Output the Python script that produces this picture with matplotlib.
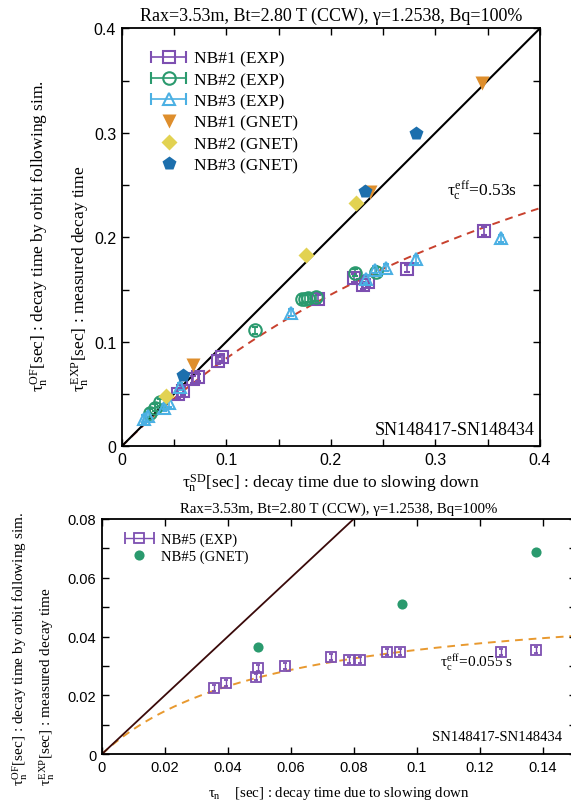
import matplotlib
matplotlib.use("Agg")
import matplotlib.pyplot as plt
import numpy as np
from matplotlib.container import ErrorbarContainer
from matplotlib.legend_handler import HandlerErrorbar
from matplotlib.lines import Line2D
from matplotlib.ticker import MultipleLocator

plt.rcParams["font.family"] = ["Liberation Serif", "DejaVu Serif"]
plt.rcParams["mathtext.fontset"] = "custom"
plt.rcParams["mathtext.rm"] = "Liberation Serif"
plt.rcParams["mathtext.it"] = "Liberation Serif"
plt.rcParams["mathtext.bf"] = "Liberation Serif:bold"

# ---- upper panel data (NB#1-3) ----
nb1_exp_x = [0.054, 0.059, 0.068, 0.073, 0.092, 0.096, 0.188, 0.222, 0.231, 0.236, 0.273, 0.346]
nb1_exp_y = [0.050, 0.053, 0.064, 0.066, 0.082, 0.085, 0.141, 0.161, 0.154, 0.157, 0.170, 0.206]
nb2_exp_x = [0.027, 0.032, 0.037, 0.127, 0.172, 0.175, 0.178, 0.186, 0.223, 0.243]
nb2_exp_y = [0.032, 0.037, 0.042, 0.111, 0.141, 0.141, 0.142, 0.143, 0.166, 0.167]
nb3_exp_x = [0.021, 0.025, 0.040, 0.045, 0.056, 0.162, 0.234, 0.242, 0.253, 0.281, 0.363]
nb3_exp_y = [0.026, 0.029, 0.037, 0.041, 0.057, 0.128, 0.160, 0.169, 0.171, 0.179, 0.199]
exp_err_top = 0.0035

nb1_gnet_x = [0.0685, 0.237, 0.345]
nb1_gnet_y = [0.0778, 0.243, 0.348]
nb2_gnet_x = [0.0424, 0.176, 0.224]
nb2_gnet_y = [0.0478, 0.183, 0.233]
nb3_gnet_x = [0.0589, 0.233, 0.281]
nb3_gnet_y = [0.0682, 0.244, 0.300]
tau_c_top = 0.53

# ---- lower panel data (NB#5) ----
nb5_exp_x = [0.0358, 0.0394, 0.0490, 0.0495, 0.0583, 0.0727, 0.0786, 0.0820, 0.0905, 0.0947, 0.1267, 0.1379]
nb5_exp_y = [0.0225, 0.0241, 0.0262, 0.0293, 0.0301, 0.0330, 0.0322, 0.0322, 0.0349, 0.0349, 0.0349, 0.0355]
exp_err_bot = 0.001
nb5_gnet_x = [0.0495, 0.0952, 0.1378]
nb5_gnet_y = [0.0364, 0.0511, 0.0687]
tau_c_bot = 0.055

title = "Rax=3.53m, Bt=2.80 T (CCW), \u03b3=1.2538, Bq=100%"
C = {"nb1": "#7d4fb1", "nb2": "#2a9a6e", "nb3": "#4bb0e3",
     "g1": "#de8e2c", "g2": "#e2d252", "g3": "#1c6fad",
     "fit_top": "#c8412e", "fit_bot": "#e8992f", "diag_bot": "#3a0a0a"}

W, H = 571, 803
fig = plt.figure(figsize=(W / 100, H / 100), dpi=100)


def tau_eff(x, tc):
    return 1.0 / (1.0 / x + 1.0 / tc)


def style_axes(ax, fs):
    ax.tick_params(which="both", direction="in", top=True, right=True,
                   length=5, width=1.0, labelsize=fs, pad=4)
    for lab in ax.get_xticklabels() + ax.get_yticklabels():
        lab.set_family(["Liberation Sans", "DejaVu Sans"])
    for s in ax.spines.values():
        s.set_linewidth(1.3)


def cap_update(handle, orig):
    handle.update_from(orig)
    if isinstance(handle, Line2D) and orig.get_marker() in ("_", "|"):
        handle.set_markersize(8)


# ================= upper panel =================
ax = fig.add_axes([121.7 / W, 1 - 447.3 / H, 418.3 / W, 418 / H])
ax.set_xlim(0, 0.4)
ax.set_ylim(0, 0.4)
diag = np.array([0, 0.4])
ax.plot(diag, diag, color="black", lw=1.5, zorder=2)
xs = np.linspace(1e-4, 0.4, 200)
ax.plot(xs, tau_eff(xs, tau_c_top), ls=(0, (4, 3)), color=C["fit_top"], lw=1.4, zorder=1)

handles = []
for x, y, m, c, lab in [(nb1_exp_x, nb1_exp_y, "s", C["nb1"], "NB#1 (EXP)"),
                        (nb2_exp_x, nb2_exp_y, "o", C["nb2"], "NB#2 (EXP)"),
                        (nb3_exp_x, nb3_exp_y, "^", C["nb3"], "NB#3 (EXP)")]:
    eb = ax.errorbar(x, y, yerr=exp_err_top, fmt=m, ms=9, mfc="none", mec=c, mew=1.5,
                     ecolor=c, elinewidth=1.2, capsize=2, capthick=1.2, zorder=3)
    handles.append(ErrorbarContainer((eb[0], eb[1], eb[2]), has_xerr=True,
                                     has_yerr=False, label=lab))
for x, y, m, ms, c, lab in [(nb1_gnet_x, nb1_gnet_y, "v", 10, C["g1"], "NB#1 (GNET)"),
                            (nb2_gnet_x, nb2_gnet_y, "D", 8, C["g2"], "NB#2 (GNET)"),
                            (nb3_gnet_x, nb3_gnet_y, "p", 10, C["g3"], "NB#3 (GNET)")]:
    h, = ax.plot(x, y, ls="none", marker=m, ms=ms, color=c, mec="none", zorder=4, label=lab)
    handles.append(h)

ax.xaxis.set_major_locator(MultipleLocator(0.1))
ax.xaxis.set_minor_locator(MultipleLocator(0.05))
ax.yaxis.set_major_locator(MultipleLocator(0.1))
ax.yaxis.set_minor_locator(MultipleLocator(0.05))
ax.xaxis.set_major_formatter(lambda v, p: "0" if v == 0 else f"{v:g}")
ax.yaxis.set_major_formatter(lambda v, p: "0" if v == 0 else f"{v:g}")
style_axes(ax, 11.5)
ax.set_title(title, fontsize=13, pad=6)
ax.set_xlabel(r"$\tau_{n}^{SD}$[sec] : decay time due to slowing down", fontsize=12.5, labelpad=3)
ax.legend(handles=handles, loc="upper left", bbox_to_anchor=(0.069, 0.947), frameon=False,
          fontsize=12.5, handlelength=2.1, handletextpad=0.4, labelspacing=0.3,
          borderpad=0, borderaxespad=0,
          handler_map={ErrorbarContainer: HandlerErrorbar(xerr_size=1.0, update_func=cap_update)})
ax.text(0.311, 0.241, r"$\tau_{c}^{eff}$=0.53s", fontsize=12.5, va="baseline")
ax.text(0.988, 0.041, "SN148417-SN148434", transform=ax.transAxes, ha="right",
        va="center", fontsize=13)
fig.text(39 / W, 1 - 392 / H, r"$\tau_{n}^{OF}$[sec] : decay time by orbit following sim.",
         rotation=90, ha="center", va="bottom", fontsize=12.5)
fig.text(80 / W, 1 - 392 / H, r"$\tau_{n}^{EXP}$[sec] : measured decay time",
         rotation=90, ha="center", va="bottom", fontsize=12.5)

# ================= lower panel =================
bx = fig.add_axes([101.7 / W, 1 - 755.3 / H, 474.3 / W, 235.3 / H])
bx.set_xlim(0, 0.1506)
bx.set_ylim(0, 0.08)
diag_b = np.array([0, 0.08])
bx.plot(diag_b, diag_b, color=C["diag_bot"], lw=1.3, zorder=2)
xs = np.linspace(1e-4, 0.1506, 200)
bx.plot(xs, tau_eff(xs, tau_c_bot), ls=(0, (4, 3)), color=C["fit_bot"], lw=1.4, zorder=1)
eb = bx.errorbar(nb5_exp_x, nb5_exp_y, yerr=exp_err_bot, fmt="s", ms=6.8, mfc="none",
                 mec=C["nb1"], mew=1.3, ecolor=C["nb1"], elinewidth=1.0, capsize=1.5,
                 capthick=1.0, zorder=3)
hb = [ErrorbarContainer((eb[0], eb[1], eb[2]), has_xerr=True, has_yerr=False,
                        label="NB#5 (EXP)")]
h, = bx.plot(nb5_gnet_x, nb5_gnet_y, ls="none", marker="o", ms=7.3, color=C["nb2"],
             mec="none", zorder=4, label="NB#5 (GNET)")
hb.append(h)
bx.xaxis.set_major_locator(MultipleLocator(0.02))
bx.yaxis.set_major_locator(MultipleLocator(0.02))
bx.yaxis.set_minor_locator(MultipleLocator(0.01))
bx.xaxis.set_major_formatter(lambda v, p: "0" if v == 0 else f"{v:g}")
bx.yaxis.set_major_formatter(lambda v, p: "0" if v == 0 else f"{v:g}")
style_axes(bx, 10.5)
bx.set_title(title, fontsize=10.7, pad=5)
bx.set_xlabel(r"$\tau_{n}$    [sec] : decay time due to slowing down", fontsize=10.7, labelpad=7)
bx.legend(handles=hb, loc="upper left", bbox_to_anchor=(0.045, 0.943), frameon=False,
          fontsize=10.5, handlelength=2.2, handletextpad=0.4, labelspacing=0.25,
          borderpad=0, borderaxespad=0,
          handler_map={ErrorbarContainer: HandlerErrorbar(xerr_size=1.0, update_func=cap_update)})
bx.text(0.1074, 0.0314, r"$\tau_{c}^{eff}$=0.055 s", fontsize=11, va="center")
bx.text(0.146, 0.0059, "SN148417-SN148434", ha="right", va="center", fontsize=10.5)
fig.text(20 / W, 1 - 786 / H, r"$\tau_{n}^{OF}$[sec] : decay time by orbit following sim.",
         rotation=90, ha="center", va="bottom", fontsize=11)
fig.text(47 / W, 1 - 786 / H, r"$\tau_{n}^{EXP}$[sec] : measured decay time",
         rotation=90, ha="center", va="bottom", fontsize=11)

fig.savefig("out.png", dpi=100)
